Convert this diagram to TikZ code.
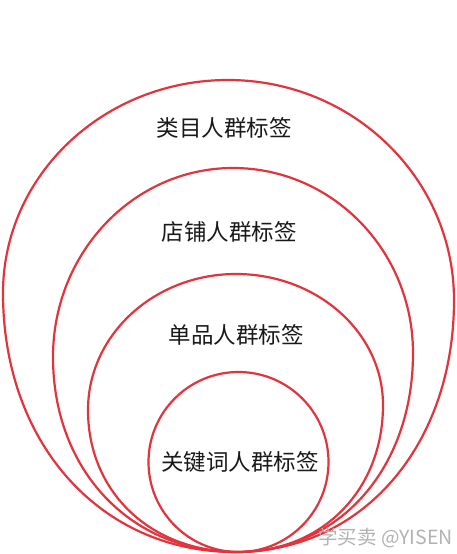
\documentclass[tikz,border=0pt]{standalone}
\usepackage{fontspec}
\newfontfamily\cjk{Noto Sans CJK SC}
\definecolor{ringred}{RGB}{226,52,60}
\definecolor{lbltext}{RGB}{25,25,25}
\newcommand\eggring[8]{%
\draw[ring] (#1,#2)
 .. controls (#1,{#2-0.5523*(#2-#4)}) and ({#3-0.5523*(#3-#1)},#4) .. (#3,#4)
 .. controls ({#3+0.5523*(#5-#3)},#4) and (#5,{#6-0.5523*(#6-#4)}) .. (#5,#6)
 .. controls (#5,{#6+0.58*(#8-#6)}) and ({#7+0.58*(#5-#7)},#8) .. (#7,#8)
 .. controls ({#7-0.58*(#7-#1)},#8) and (#1,{#2+0.58*(#8-#2)}) .. cycle;}
\begin{document}
\begin{tikzpicture}[x=1pt,y=-1pt,
  ring/.style={draw=ringred, line width=2.2pt},
  lbl/.style={font=\cjk\fontsize{22.5}{23}\selectfont, text=lbltext, inner sep=0pt},
  wmark/.style={font=\cjk\fontsize{19.5}{20}\selectfont, text=black!30, inner sep=0pt, anchor=west}]
\useasboundingbox (0,0) rectangle (456,554);
\fill[white] (0,0) rectangle (456,554);
% rings
\eggring{3}{293}{228}{80}{454}{300}{235}{552}
\eggring{53}{357}{233}{168}{413}{353}{237}{552}
\eggring{88}{410}{236}{274}{383}{405}{238}{552}
\draw[ring] (238.5,462) circle[radius=90pt];
% labels
\node[lbl] (cat)  at (224,128) {类目人群标签};
\node[lbl] (shop) at (229,232) {店铺人群标签};
\node[lbl] (item) at (236,335) {单品人群标签};
\node[lbl] (kw)   at (240,462) {关键词人群标签};
\node[wmark] (wm) at (318,538) {学买卖 @YISEN};
\end{tikzpicture}
\end{document}
